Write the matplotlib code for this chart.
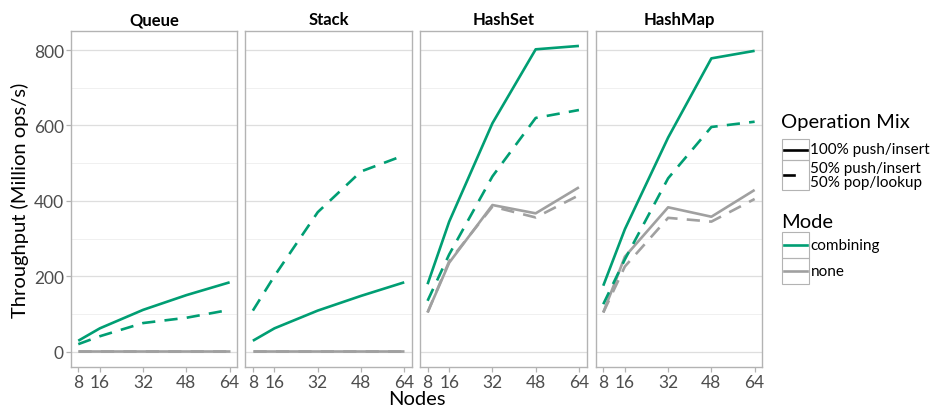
import matplotlib
matplotlib.use("Agg")
import matplotlib.pyplot as plt
from matplotlib.ticker import MultipleLocator
from matplotlib.lines import Line2D
from matplotlib.patches import Rectangle

plt.rcParams['font.family'] = ['Lato', 'DejaVu Sans']

nodes = [8, 16, 32, 48, 64]
structures = ["Queue", "Stack", "HashSet", "HashMap"]

# throughput (Million ops/s)
queue_comb_100 = [29, 62, 111, 150, 184]
queue_comb_50 = [20, 41, 76, 90, 111]
queue_none_100 = [1, 1, 1, 1, 1]
queue_none_50 = [1, 1, 1, 1, 1]

stack_comb_100 = [29, 62, 109, 148, 184]
stack_comb_50 = [109, 201, 370, 478, 521]
stack_none_100 = [1, 1, 1, 1, 1]
stack_none_50 = [1, 1, 1, 1, 1]

hashset_comb_100 = [179, 345, 606, 802, 811]
hashset_comb_50 = [135, 258, 465, 620, 641]
hashset_none_100 = [104, 236, 389, 367, 436]
hashset_none_50 = [104, 240, 385, 356, 415]

hashmap_comb_100 = [175, 325, 568, 778, 798]
hashmap_comb_50 = [126, 245, 460, 596, 610]
hashmap_none_100 = [104, 252, 383, 358, 429]
hashmap_none_50 = [104, 226, 355, 345, 405]

data = {
    "Queue": [(queue_comb_100, "combining", "100"), (queue_comb_50, "combining", "50"),
              (queue_none_100, "none", "100"), (queue_none_50, "none", "50")],
    "Stack": [(stack_comb_100, "combining", "100"), (stack_comb_50, "combining", "50"),
              (stack_none_100, "none", "100"), (stack_none_50, "none", "50")],
    "HashSet": [(hashset_comb_100, "combining", "100"), (hashset_comb_50, "combining", "50"),
                (hashset_none_100, "none", "100"), (hashset_none_50, "none", "50")],
    "HashMap": [(hashmap_comb_100, "combining", "100"), (hashmap_comb_50, "combining", "50"),
                (hashmap_none_100, "none", "100"), (hashmap_none_50, "none", "50")],
}

colors = {"combining": "#009E73", "none": "#A0A0A0"}
W, H = 940, 414
fig = plt.figure(figsize=(W / 100, H / 100), dpi=100)

panel_lefts = [70.7, 245.3, 420.0, 595.7]
panel_w = 166.5
top_px, bot_px = 32, 368

tick_col = "#4D4D4D"
border_col = "#B3B3B3"
dash = (0, (5, 3.5))

for i, name in enumerate(structures):
    ax = fig.add_axes([panel_lefts[i] / W, 1 - bot_px / H, panel_w / W, (bot_px - top_px) / H])
    for vals, mode, mix in sorted(data[name], key=lambda t: 0 if t[1] == "none" else 1):
        ls = '-' if mix == "100" else dash
        ax.plot(nodes, vals, color=colors[mode], lw=1.9, linestyle=ls,
                solid_capstyle='butt', dash_capstyle='butt', zorder=3)
    ax.set_xlim(8 - 2.8, 64 + 2.8)
    ax.set_ylim(-40.6, 850.6)
    ax.set_xticks(nodes)
    ax.yaxis.set_major_locator(MultipleLocator(200))
    ax.yaxis.set_minor_locator(MultipleLocator(100))
    ax.grid(axis='y', which='major', color='#DEDEDE', lw=0.9, zorder=0)
    ax.grid(axis='y', which='minor', color='#F0F0F0', lw=0.7, zorder=0)
    ax.set_axisbelow(True)
    for s in ax.spines.values():
        s.set_color(border_col)
        s.set_linewidth(1.0)
    ax.tick_params(axis='x', colors=border_col, labelcolor=tick_col, labelsize=12.5,
                   length=3.5, width=0.9, pad=1.5)
    ax.tick_params(axis='y', which='major', colors=border_col, labelcolor=tick_col,
                   labelsize=12.5, length=3.5, width=0.9, pad=1.5)
    ax.tick_params(axis='y', which='minor', length=0)
    if i > 0:
        ax.tick_params(axis='y', which='major', labelleft=False, length=0)
    ax.set_title(name, fontsize=12, fontweight='bold', color='black', pad=5)

fig.text(416.5 / W, 1 - 400 / H, "Nodes", ha='center', va='center', fontsize=14.5, color='black')
fig.text(20 / W, 1 - 200 / H, "Throughput (Million ops/s)", ha='center', va='center',
         rotation=90, fontsize=14.5, color='black')

# legend overlay in pixel coordinates
lax = fig.add_axes([0, 0, 1, 1])
lax.set_xlim(0, W)
lax.set_ylim(H, 0)
lax.axis('off')

kx0, kx1 = 781.7, 808.5
lax.text(781, 123, "Operation Mix", fontsize=14.5, va='center', ha='left')
op_keys = [(140, 161, '-', "100% push/insert"), (161, 190.7, dash, "50% push/insert\n50% pop/lookup")]
for y0, y1, ls, lab in op_keys:
    lax.add_patch(Rectangle((kx0, y0), kx1 - kx0, y1 - y0, fill=False, ec=border_col, lw=0.8))
    ym = (y0 + y1) / 2
    if ls == '-':
        lax.add_line(Line2D([kx0 + 2, kx1 - 2], [ym, ym], color='black', lw=1.9))
    else:
        lax.add_line(Line2D([kx0 + 2, kx0 + 12], [ym, ym], color='black', lw=1.9))
    lax.text(810.5, ym, lab, fontsize=11, va='center', ha='left', linespacing=0.95)

lax.text(781, 223, "Mode", fontsize=14.5, va='center', ha='left')
mode_keys = [(233, 259, "combining"), (259, 285, "none")]
for y0, y1, lab in mode_keys:
    lax.add_patch(Rectangle((kx0, y0), kx1 - kx0, y1 - y0, fill=False, ec=border_col, lw=0.8))
    ym = (y0 + y1) / 2
    lax.add_line(Line2D([kx0 + 2, kx1 - 2], [ym, ym], color=colors[lab], lw=1.9))
    lax.text(810.5, ym, lab, fontsize=11, va='center', ha='left')

fig.savefig("out.png", dpi=100)
